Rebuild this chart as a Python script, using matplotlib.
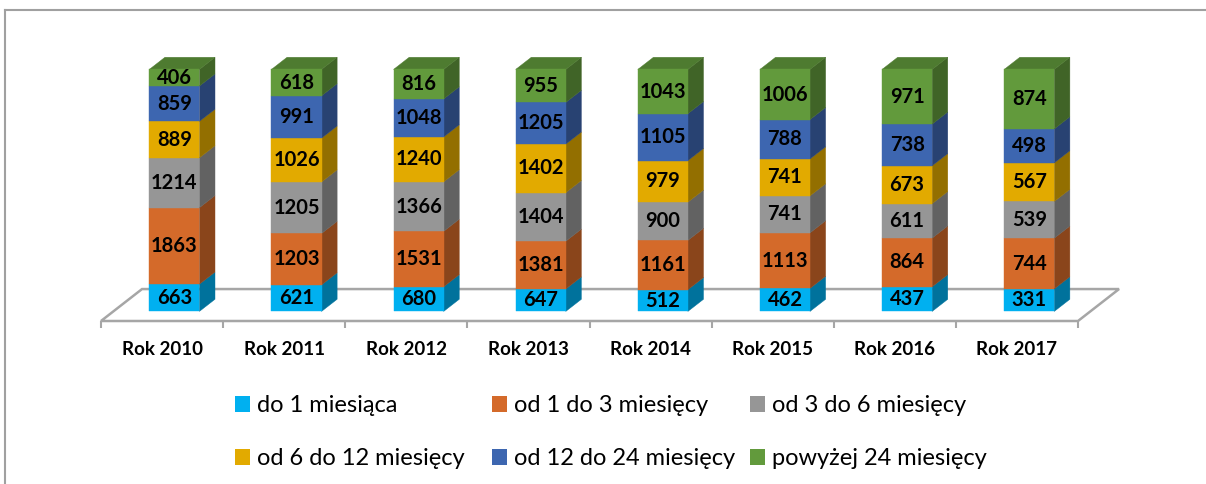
import matplotlib
matplotlib.use("Agg")
from matplotlib import pyplot as plt
from matplotlib.patches import Polygon, Patch
from matplotlib.lines import Line2D
import matplotlib.colors as mcolors

years = ["Rok 2010", "Rok 2011", "Rok 2012", "Rok 2013",
         "Rok 2014", "Rok 2015", "Rok 2016", "Rok 2017"]
series_names = ["do 1 miesiąca", "od 1 do 3 miesięcy", "od 3 do 6 miesięcy",
                "od 6 do 12 miesięcy", "od 12 do 24 miesięcy", "powyżej 24 miesięcy"]
do_1 = [663, 621, 680, 647, 512, 462, 437, 331]
od_1_do_3 = [1863, 1203, 1531, 1381, 1161, 1113, 864, 744]
od_3_do_6 = [1214, 1205, 1366, 1404, 900, 741, 611, 539]
od_6_do_12 = [889, 1026, 1240, 1402, 979, 741, 673, 567]
od_12_do_24 = [859, 991, 1048, 1205, 1105, 788, 738, 498]
powyzej_24 = [406, 618, 816, 955, 1043, 1006, 971, 874]
series = [do_1, od_1_do_3, od_3_do_6, od_6_do_12, od_12_do_24, powyzej_24]
colors = ["#00B0F0", "#D46A2A", "#969696", "#E2AA00", "#3D66B0", "#629A3C"]

W, H = 1206, 484
plt.rcParams["font.family"] = ["Lato", "DejaVu Sans"]

# oblique "3D" geometry: offsets per unit of floor depth, in data units
DX, DY = 0.336, 13.2
D_FRONT, D_BACK = 0.30, 0.68
HALF = 0.205


def shade(c, f):
    r, g, b = mcolors.to_rgb(c)
    return (r * f, g * f, b * f)


fig = plt.figure(figsize=(W / 100, H / 100), dpi=100)
ax = fig.add_axes([101 / W, 163 / H, 977 / W, 242 / H])
ax.set_xlim(-0.5, len(years) - 0.5)
ax.set_ylim(0, 100)
ax.axis("off")

# floor
n = len(years)
floor = Polygon([(-0.5, 0), (n - 0.5, 0), (n - 0.5 + DX, DY), (-0.5 + DX, DY)],
                closed=True, fill=False, edgecolor="#A6A6A6", lw=1.8, clip_on=False, zorder=1)
ax.add_patch(floor)
ax.vlines([i - 0.5 for i in range(n + 1)], 0, -3.0, color="#A6A6A6", lw=1.5,
          clip_on=False, zorder=1)

fx, fy = D_FRONT * DX, D_FRONT * DY
bx, by = D_BACK * DX, D_BACK * DY
for i in range(n):
    total = sum(s[i] for s in series)
    cum = 0.0
    xl, xr = i - HALF, i + HALF
    for k, s in enumerate(series):
        h = s[i] / total * 100
        y0, y1 = cum, cum + h
        c = colors[k]
        front = Polygon([(xl + fx, y0 + fy), (xr + fx, y0 + fy), (xr + fx, y1 + fy), (xl + fx, y1 + fy)],
                        closed=True, facecolor=c, edgecolor=c, lw=0.3, clip_on=False, zorder=3)
        side = Polygon([(xr + fx, y0 + fy), (xr + bx, y0 + by), (xr + bx, y1 + by), (xr + fx, y1 + fy)],
                       closed=True, facecolor=shade(c, 0.65), edgecolor=shade(c, 0.65), lw=0.3,
                       clip_on=False, zorder=2)
        ax.add_patch(side)
        ax.add_patch(front)
        if k == len(series) - 1:
            top = Polygon([(xl + fx, y1 + fy), (xr + fx, y1 + fy), (xr + bx, y1 + by), (xl + bx, y1 + by)],
                          closed=True, facecolor=shade(c, 0.8), edgecolor=shade(c, 0.8), lw=0.3,
                          clip_on=False, zorder=2)
            ax.add_patch(top)
        ax.text(i + fx, (y0 + y1) / 2 + fy, str(s[i]), ha="center", va="center",
                fontsize=14.5, fontweight="bold", color="black", zorder=4)
        cum = y1
    ax.text(i, -11.6, years[i], ha="center", va="center", fontsize=13.5,
            fontweight="bold", color="black")

# legend: three columns placed like the original
handles = [Patch(facecolor=c, edgecolor="none") for c in colors]
col_x = [235, 492, 750]
for j in range(3):
    fig.legend([handles[j], handles[j + 3]], [series_names[j], series_names[j + 3]],
               loc="upper left", bbox_to_anchor=(col_x[j] / W, 1 - 395 / H),
               frameon=False, fontsize=17, borderpad=0, borderaxespad=0,
               handlelength=0.64, handleheight=0.64, handletextpad=0.3, labelspacing=1.37)

# outer frame
fig.add_artist(Line2D([5 / W, 5 / W], [0, 1 - 10 / H], color="#A0A0A0", lw=1.5))
fig.add_artist(Line2D([5 / W, 1], [1 - 10 / H, 1 - 10 / H], color="#A0A0A0", lw=1.5))

fig.savefig("out.png", dpi=100)
plt.close(fig)
